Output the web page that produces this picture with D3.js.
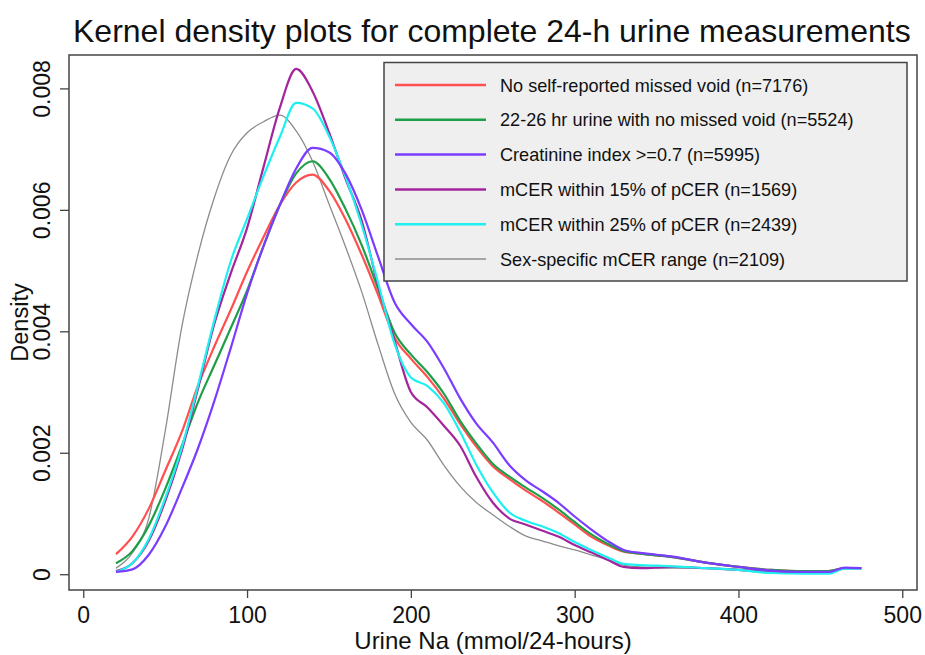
<!DOCTYPE html>
<html>
<head>
<meta charset="utf-8">
<script src="https://cdn.jsdelivr.net/npm/d3@7"></script>
<style>
  body { margin: 0; background: #fff; }
  text { font-family: "Liberation Sans", Arial, Helvetica, sans-serif; fill: #111; }
</style>
</head>
<body>
<div id="chart"></div>
<script>
// urine Na grid (mmol/24-hours) where each density was read
var naGrid = [20, 30, 40, 50, 60, 70, 80, 90, 100, 110, 120, 130, 140, 150, 160, 170, 180, 190, 200, 210,
  220, 230, 240, 250, 260, 270, 280, 290, 300, 310, 320, 330, 340, 350, 360, 380, 400, 420, 440, 455, 465, 475];

// densities, in units of 0.001
var noMissedVoid = [0.33, 0.62, 1.08, 1.70, 2.33, 3.10, 3.75, 4.35, 4.98, 5.55, 6.08, 6.45, 6.58, 6.32, 5.85, 5.26, 4.60, 3.90, 3.55, 3.25,
  2.90, 2.48, 2.10, 1.78, 1.57, 1.38, 1.21, 1.02, 0.82, 0.62, 0.48, 0.37, 0.34, 0.31, 0.28, 0.19, 0.12, 0.07, 0.05, 0.05, 0.10, 0.10];
var hr2226 = [0.18, 0.38, 0.80, 1.40, 2.10, 2.83, 3.44, 4.05, 4.67, 5.40, 6.08, 6.60, 6.80, 6.52, 6.02, 5.42, 4.70, 3.98, 3.62, 3.33,
  2.98, 2.53, 2.15, 1.82, 1.61, 1.43, 1.26, 1.07, 0.86, 0.66, 0.50, 0.38, 0.34, 0.31, 0.28, 0.19, 0.12, 0.07, 0.05, 0.05, 0.10, 0.10];
var creatIndex = [0.04, 0.08, 0.32, 0.78, 1.40, 2.07, 2.85, 3.72, 4.62, 5.40, 6.08, 6.68, 7.02, 6.95, 6.60, 6.00, 5.23, 4.48, 4.12, 3.83,
  3.40, 2.90, 2.48, 2.17, 1.80, 1.55, 1.37, 1.18, 0.95, 0.74, 0.55, 0.40, 0.35, 0.32, 0.29, 0.19, 0.12, 0.06, 0.04, 0.04, 0.11, 0.10];
var mcer15 = [0.05, 0.18, 0.55, 1.20, 2.02, 3.05, 4.12, 4.95, 5.70, 6.70, 7.68, 8.32, 7.95, 7.28, 6.52, 5.82, 4.75, 3.85, 3.00, 2.75,
  2.45, 2.12, 1.60, 1.18, 0.92, 0.82, 0.72, 0.62, 0.48, 0.36, 0.24, 0.12, 0.10, 0.11, 0.12, 0.10, 0.07, 0.03, 0.02, 0.02, 0.10, 0.10];
var mcer25 = [0.04, 0.18, 0.58, 1.25, 2.07, 3.10, 4.18, 5.15, 5.85, 6.55, 7.20, 7.76, 7.67, 7.22, 6.55, 5.75, 4.80, 3.80, 3.24, 3.10,
  2.82, 2.35, 1.80, 1.35, 1.02, 0.88, 0.79, 0.68, 0.53, 0.40, 0.28, 0.17, 0.15, 0.14, 0.13, 0.10, 0.07, 0.02, 0.01, 0.01, 0.09, 0.09];
var sexSpecific = [0.10, 0.35, 0.92, 2.35, 4.05, 5.26, 6.20, 6.90, 7.27, 7.45, 7.56, 7.30, 6.80, 6.10, 5.40, 4.65, 3.78, 2.98, 2.50, 2.21,
  1.80, 1.45, 1.18, 0.98, 0.79, 0.63, 0.55, 0.47, 0.40, 0.32, 0.24, 0.15, 0.12, 0.11, 0.10, 0.10, 0.08, 0.05, 0.03, 0.03, 0.09, 0.10];

var seriesLabels = ["No self-reported missed void (n=7176)", "22-26 hr urine with no missed void (n=5524)",
  "Creatinine index >=0.7 (n=5995)", "mCER within 15% of pCER (n=1569)",
  "mCER within 25% of pCER (n=2439)", "Sex-specific mCER range (n=2109)"];
var xTicks = [0, 100, 200, 300, 400, 500];
var yTicks = [0, 0.002, 0.004, 0.006, 0.008];

var colors = ["#ff4f4f", "#1f9e48", "#7b3cff", "#a3249c", "#1ef0f0", "#8c8c8c"];
var widths = [2.2, 2.2, 2.2, 2.2, 2.2, 1.3];
var allSeries = [noMissedVoid, hr2226, creatIndex, mcer15, mcer25, sexSpecific];

var width = 925, height = 655;
var plot = {left: 69, right: 917, top: 55, bottom: 590};

var svg = d3.select("#chart").append("svg")
    .attr("width", width)
    .attr("height", height);

var x = d3.scaleLinear().domain([-8.7, 509]).range([plot.left, plot.right]);
var y = d3.scaleLinear().domain([-0.00026, 0.00855]).range([plot.bottom, plot.top]);

svg.append("text")
    .attr("x", 73)
    .attr("y", 42)
    .attr("font-size", 32)
    .text("Kernel density plots for complete 24-h urine measurements");

// curves
var line = d3.line()
    .x(function(d) { return x(d[0]); })
    .y(function(d) { return y(d[1] / 1000); })
    .curve(d3.curveMonotoneX);

var drawOrder = [5, 0, 1, 3, 4, 2];
drawOrder.forEach(function(i) {
  var pts = naGrid.map(function(v, k) { return [v, allSeries[i][k]]; });
  svg.append("path")
      .datum(pts)
      .attr("fill", "none")
      .attr("stroke", colors[i])
      .attr("stroke-width", widths[i])
      .attr("stroke-linejoin", "round")
      .attr("d", line);
});

// frame
svg.append("rect")
    .attr("x", plot.left)
    .attr("y", plot.top)
    .attr("width", plot.right - plot.left)
    .attr("height", plot.bottom - plot.top)
    .attr("fill", "none")
    .attr("stroke", "#444")
    .attr("stroke-width", 1.5);

// axes
var xAxis = svg.append("g")
    .attr("transform", "translate(0," + plot.bottom + ")")
    .call(d3.axisBottom(x).tickValues(xTicks).tickSize(8).tickFormat(d3.format("d")));
xAxis.select(".domain").remove();
xAxis.selectAll(".tick line").attr("stroke", "#444").attr("stroke-width", 1.3);
xAxis.selectAll(".tick text")
    .attr("y", 33).attr("dy", 0)
    .attr("font-size", 23)
    .attr("font-family", "Liberation Sans, Arial, sans-serif")
    .attr("fill", "#111");

var yAxis = svg.append("g")
    .attr("transform", "translate(" + plot.left + ",0)")
    .call(d3.axisLeft(y).tickValues(yTicks).tickSize(9)
      .tickFormat(function(d) { return d === 0 ? "0" : d3.format(".3f")(d); }));
yAxis.select(".domain").remove();
yAxis.selectAll(".tick line").attr("stroke", "#444").attr("stroke-width", 1.3);
yAxis.selectAll(".tick text")
    .attr("x", 0).attr("y", 0).attr("dy", 0)
    .attr("transform", "translate(-19,0) rotate(-90)")
    .attr("text-anchor", "middle")
    .attr("font-size", 23)
    .attr("font-family", "Liberation Sans, Arial, sans-serif")
    .attr("fill", "#111");

svg.append("text")
    .attr("x", (plot.left + plot.right) / 2)
    .attr("y", 649)
    .attr("text-anchor", "middle")
    .attr("font-size", 24)
    .text("Urine Na (mmol/24-hours)");

svg.append("text")
    .attr("transform", "translate(28," + ((plot.top + plot.bottom) / 2) + ") rotate(-90)")
    .attr("text-anchor", "middle")
    .attr("font-size", 23.5)
    .text("Density");

// legend
var lg = svg.append("g");
lg.append("rect")
    .attr("x", 384).attr("y", 62.5)
    .attr("width", 523).attr("height", 218.5)
    .attr("fill", "#efefef")
    .attr("stroke", "#444")
    .attr("stroke-width", 1.5);

var item = lg.selectAll(".item")
    .data(seriesLabels)
    .enter().append("g")
      .attr("class", "item")
      .attr("transform", function(d, i) { return "translate(0," + (85 + i * 34.8) + ")"; });

item.append("line")
    .attr("x1", 395).attr("x2", 486)
    .attr("stroke", function(d, i) { return colors[i]; })
    .attr("stroke-width", function(d, i) { return widths[i] + 0.3; });

item.append("text")
    .attr("x", 500)
    .attr("y", 6.5)
    .attr("font-size", 18.1)
    .text(function(d) { return d; });
</script>
</body>
</html>
